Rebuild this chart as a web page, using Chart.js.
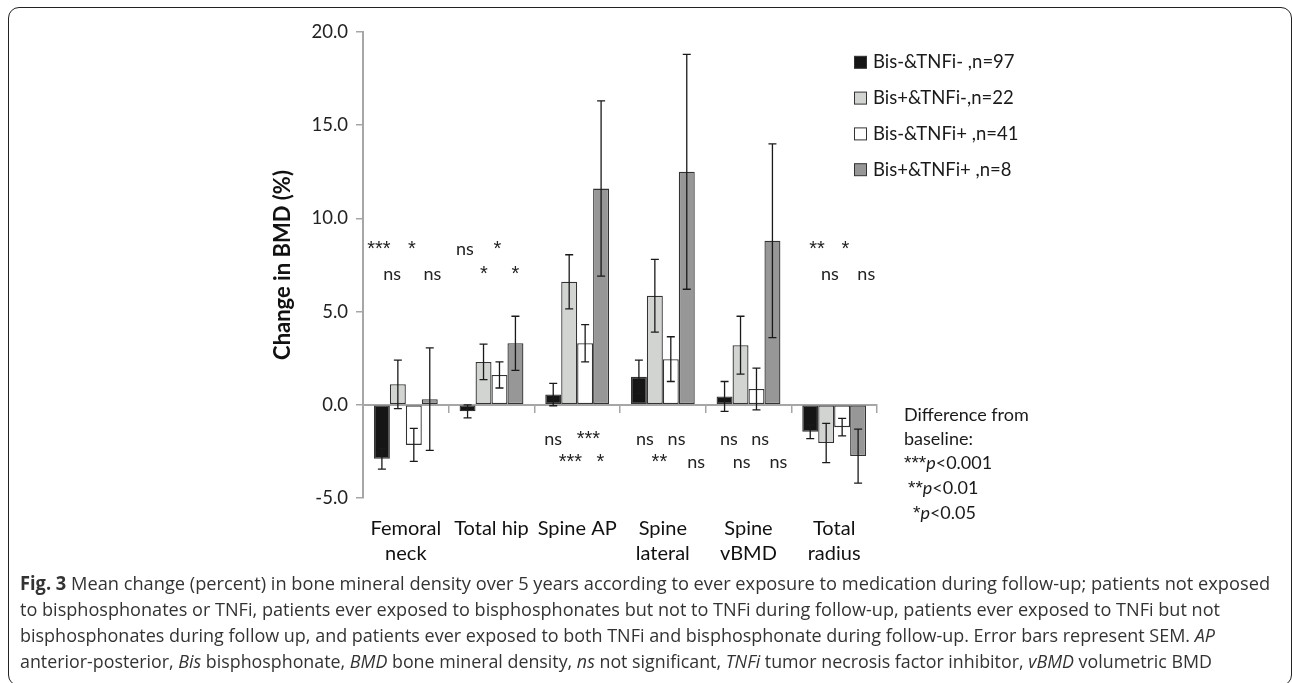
<!DOCTYPE html>
<html lang="en">
<head>
<meta charset="UTF-8">
<title>Fig. 3 Mean change in BMD</title>
<script src="https://cdn.jsdelivr.net/npm/chart.js"></script>
<style>
  html, body { margin: 0; padding: 0; background: #fff; }
  body { width: 1292px; height: 683px; position: relative; overflow: hidden; font-family: 'Lato', sans-serif; color: #1a1a1a; }
  #frame { position: absolute; left: 8px; top: 7px; width: 1284px; height: 679px; border: 1.5px solid #222; border-radius: 11px; box-sizing: border-box; }
  #chart { position: absolute; left: 0; top: 0; }
  #note { position: absolute; left: 904px; top: 402px; font-size: 18px; line-height: 24px; }
  #note .st { font-family: 'Liberation Sans', sans-serif; font-size: 19px; }
  #caption { position: absolute; left: 20px; top: 570px; font-family: 'Open Sans', sans-serif; font-size: 19px; line-height: 26px; color: #333; }
  #caption .ln { display: block; white-space: nowrap; width: max-content; transform-origin: 0 0; }
</style>
</head>
<body>
  <div id="frame"></div>
  <canvas id="chart" width="1292" height="683"></canvas>
  <div id="note">Difference from<br>baseline:<br><span class="st">***</span><i>p</i>&lt;0.001<br><span style="padding-left:4px"><span class="st">**</span><i>p</i>&lt;0.01</span><br><span style="padding-left:9px"><span class="st">*</span><i>p</i>&lt;0.05</span></div>
  <div id="caption">
    <span class="ln"><b>Fig. 3</b> Mean change (percent) in bone mineral density over 5 years according to ever exposure to medication during follow-up; patients not exposed</span>
    <span class="ln">to bisphosphonates or TNFi, patients ever exposed to bisphosphonates but not to TNFi during follow-up, patients ever exposed to TNFi but not</span>
    <span class="ln">bisphosphonates during follow up, and patients ever exposed to both TNFi and bisphosphonate during follow-up. Error bars represent SEM. <i>AP</i></span>
    <span class="ln">anterior-posterior, <i>Bis</i> bisphosphonate, <i>BMD</i> bone mineral density, <i>ns</i> not significant, <i>TNFi</i> tumor necrosis factor inhibitor, <i>vBMD</i> volumetric BMD</span>
  </div>

  <script>
    // sites and groups
    const categories = [["Femoral", "neck"], "Total hip", "Spine AP", ["Spine", "lateral"], ["Spine", "vBMD"], ["Total", "radius"]];
    const groupLabels = ["Bis-&TNFi- ,n=97", "Bis+&TNFi-,n=22", "Bis-&TNFi+ ,n=41", "Bis+&TNFi+ ,n=8"];

    // mean change in BMD (%) and SEM per group
    const bisNegTnfNeg = [-2.9, -0.35, 0.55, 1.5, 0.45, -1.45];
    const bisNegTnfNegSem = [0.55, 0.35, 0.6, 0.9, 0.8, 0.37];
    const bisPosTnfNeg = [1.1, 2.3, 6.6, 5.85, 3.2, -2.05];
    const bisPosTnfNegSem = [1.3, 0.95, 1.45, 1.95, 1.55, 1.05];
    const bisNegTnfPos = [-2.15, 1.6, 3.3, 2.45, 0.85, -1.2];
    const bisNegTnfPosSem = [0.88, 0.7, 1.0, 1.2, 1.12, 0.47];
    const bisPosTnfPos = [0.3, 3.3, 11.6, 12.5, 8.8, -2.75];
    const bisPosTnfPosSem = [2.75, 1.45, 4.7, 6.3, 5.2, 1.45];

    const yTicks = [-5, 0, 5, 10, 15, 20];

    // significance vs baseline: [site index, shift within site, y value, text]
    const sigMarks = [
      [0, -0.315, 8.04, "***"], [0, 0.07, 8.04, "*"], [0, -0.16, 6.69, "ns"], [0, 0.31, 6.69, "ns"],
      [1, -0.31, 8.04, "ns"], [1, 0.07, 8.04, "*"], [1, -0.09, 6.69, "*"], [1, 0.28, 6.69, "*"],
      [2, -0.28, -2.18, "ns"], [2, 0.13, -2.18, "***"], [2, -0.08, -3.41, "***"], [2, 0.27, -3.41, "*"],
      [3, -0.21, -2.18, "ns"], [3, 0.16, -2.18, "ns"], [3, -0.04, -3.41, "**"], [3, 0.39, -3.41, "ns"],
      [4, -0.23, -2.18, "ns"], [4, 0.135, -2.18, "ns"], [4, -0.08, -3.41, "ns"], [4, 0.35, -3.41, "ns"],
      [5, -0.2, 8.04, "**"], [5, 0.13, 8.04, "*"], [5, -0.05, 6.69, "ns"], [5, 0.375, 6.69, "ns"]
    ];

    const axisGrey = "#a6a6a6";

    const extras = {
      id: "extras",
      afterDatasetsDraw(chart) {
        const ctx = chart.ctx;
        const x = chart.scales.x;
        const y = chart.scales.y;
        ctx.save();

        // error bars (SEM)
        ctx.strokeStyle = "#1a1a1a";
        ctx.lineWidth = 1.3;
        chart.data.datasets.forEach((ds, i) => {
          chart.getDatasetMeta(i).data.forEach((bar, j) => {
            const top = y.getPixelForValue(ds.data[j] + ds.sem[j]);
            const bot = y.getPixelForValue(ds.data[j] - ds.sem[j]);
            ctx.beginPath();
            ctx.moveTo(bar.x, top); ctx.lineTo(bar.x, bot);
            ctx.moveTo(bar.x - 4, top); ctx.lineTo(bar.x + 4, top);
            ctx.moveTo(bar.x - 4, bot); ctx.lineTo(bar.x + 4, bot);
            ctx.stroke();
          });
        });

        // significance marks
        const step = x.width / categories.length;
        ctx.fillStyle = "#222";
        ctx.textAlign = "center";
        ctx.textBaseline = "alphabetic";
        sigMarks.forEach(([c, dx, v, t]) => {
          ctx.font = t.includes("*") ? "20px 'Liberation Sans'" : "18px Lato";
          ctx.fillText(t, x.getPixelForTick(c) + dx * step, y.getPixelForValue(v));
        });

        // y axis title
        ctx.save();
        ctx.translate(290, (y.top + y.bottom) / 2);
        ctx.rotate(-Math.PI / 2);
        ctx.font = "bold 22px Lato";
        ctx.fillStyle = "#111";
        ctx.fillText("Change in BMD (%)", 0, 0);
        ctx.restore();

        // legend
        ctx.textAlign = "left";
        ctx.font = "18.5px Lato";
        chart.data.datasets.forEach((ds, i) => {
          const base = 68.3 + i * 35.8;
          ctx.fillStyle = ds.backgroundColor;
          ctx.fillRect(854.5, base - 12, 12, 12);
          ctx.strokeStyle = "#333";
          ctx.lineWidth = 1;
          ctx.strokeRect(854.5, base - 12, 12, 12);
          ctx.fillStyle = "#1a1a1a";
          ctx.fillText(ds.label, 873, base);
        });

        ctx.restore();
      }
    };

    const ctx = document.getElementById("chart").getContext("2d");
    new Chart(ctx, {
      type: "bar",
      data: {
        labels: categories,
        datasets: [
          { label: groupLabels[0], data: bisNegTnfNeg, sem: bisNegTnfNegSem, backgroundColor: "#151515" },
          { label: groupLabels[1], data: bisPosTnfNeg, sem: bisPosTnfNegSem, backgroundColor: "#d2d4d2" },
          { label: groupLabels[2], data: bisNegTnfPos, sem: bisNegTnfPosSem, backgroundColor: "#ffffff" },
          { label: groupLabels[3], data: bisPosTnfPos, sem: bisPosTnfPosSem, backgroundColor: "#979797" }
        ]
      },
      options: {
        responsive: false,
        animation: false,
        layout: { padding: { left: 0, top: 32, right: 415, bottom: 85 } },
        plugins: { legend: { display: false }, tooltip: { enabled: false } },
        datasets: {
          bar: { xAxisID: "x", categoryPercentage: 0.745, barPercentage: 1, borderWidth: 1.3, borderColor: "#333333", borderSkipped: false }
        },
        scales: {
          x: {
            offset: true,
            grid: { display: false, drawTicks: false },
            border: { display: false },
            ticks: { color: "#111", font: { family: "Lato", size: 20, lineHeight: 1.25 }, padding: 18, maxRotation: 0, autoSkip: false },
            afterFit: (s) => { s.height = 100; }
          },
          x2: {
            type: "category",
            labels: categories,
            offset: true,
            position: { y: 0 },
            grid: { offset: true, drawOnChartArea: false, tickLength: 7, color: axisGrey, lineWidth: 1.5 },
            border: { color: axisGrey, width: 2 },
            ticks: { display: false },
            afterFit: (s) => { s.height = 0; }
          },
          y: {
            min: yTicks[0],
            max: yTicks[yTicks.length - 1],
            afterBuildTicks: (s) => { s.ticks = yTicks.map((v) => ({ value: v })); },
            ticks: { callback: (v) => v.toFixed(1), padding: 8, color: "#222", font: { family: "Lato", size: 18.5 } },
            grid: { drawOnChartArea: false, tickLength: 7, color: axisGrey, lineWidth: 1.5 },
            border: { color: axisGrey, width: 2 },
            afterFit: (s) => { s.width = 363; }
          }
        }
      },
      plugins: [extras]
    });

    // squeeze caption lines to the widths of the printed figure
    const lineEnds = [1270, 1220, 1215, 1212];
    document.querySelectorAll("#caption .ln").forEach((el, i) => {
      const w = el.getBoundingClientRect().width;
      el.style.transform = "scaleX(" + ((lineEnds[i] - 20) / w).toFixed(4) + ")";
    });
  </script>
</body>
</html>
